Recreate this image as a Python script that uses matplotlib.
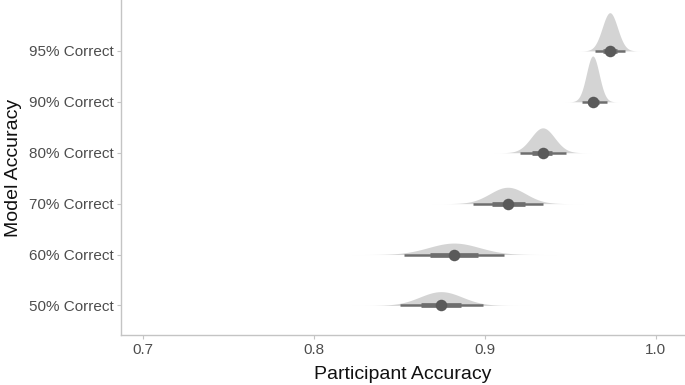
import numpy as np
import matplotlib
matplotlib.use("Agg")
from matplotlib import pyplot as plt

plt.rcParams['font.family'] = ['Liberation Sans', 'DejaVu Sans']

# rows bottom -> top
labels = ['50% Correct', '60% Correct', '70% Correct', '80% Correct', '90% Correct', '95% Correct']
medians = [0.8744, 0.8820, 0.9134, 0.9339, 0.9631, 0.9731]
lo66 = [0.8627, 0.8679, 0.9041, 0.9275, 0.9602, 0.9690]
hi66 = [0.8860, 0.8960, 0.9234, 0.9392, 0.9666, 0.9772]
lo95 = [0.8504, 0.8527, 0.8930, 0.9205, 0.9567, 0.9643]
hi95 = [0.8989, 0.9111, 0.9339, 0.9474, 0.9713, 0.9818]

slab_col = '#d4d4d4'
line_col = '#6e6e6e'
pt_col = '#5a5a5a'
axis_col = '#c4c4c4'

fig = plt.figure(figsize=(6.85, 3.85), dpi=100)
ax = fig.add_axes([0.1766, 0.13, 0.8234, 0.87])

# slab densities (normal shape from the 95% interval), normalised over all rows
sds = [(h - l) / (2 * 1.96) for l, h in zip(lo95, hi95)]
peak = max(1 / s for s in sds)
for i in range(len(labels)):
    y0 = i + 1
    m, s = medians[i], sds[i]
    xs = np.linspace(m - 5 * s, m + 5 * s, 400)
    d = np.exp(-0.5 * ((xs - m) / s) ** 2) / s
    ax.fill_between(xs, y0, y0 + 0.9 * d / peak, color=slab_col, lw=0, zorder=1)
    ax.plot([lo95[i], hi95[i]], [y0, y0], color=line_col, lw=1.8,
            solid_capstyle='butt', zorder=2)
    ax.plot([lo66[i], hi66[i]], [y0, y0], color=line_col, lw=3.4,
            solid_capstyle='butt', zorder=3)
    ax.plot(medians[i], y0, 'o', color=pt_col, ms=8.3, mew=0, zorder=4)

ax.set_xlim(0.6874, 1.017)
ax.set_ylim(0.42, 7.0)
ax.set_xticks([0.7, 0.8, 0.9, 1.0])
ax.set_xticklabels(['0.7', '0.8', '0.9', '1.0'])
ax.set_yticks(range(1, len(labels) + 1))
ax.set_yticklabels(labels)

for sp in ['top', 'right']:
    ax.spines[sp].set_visible(False)
for sp in ['left', 'bottom']:
    ax.spines[sp].set_color(axis_col)
    ax.spines[sp].set_linewidth(1.0)
ax.tick_params(colors=axis_col, labelcolor='#4d4d4d', labelsize=11, length=3, width=0.8)
ax.tick_params(axis='x', pad=3)
ax.tick_params(axis='y', pad=2)
ax.set_xlabel('Participant Accuracy', fontsize=14, color='#111111', labelpad=6)
ax.set_ylabel('Model Accuracy', fontsize=14, color='#111111', labelpad=5)

fig.savefig('out.png', dpi=100)
